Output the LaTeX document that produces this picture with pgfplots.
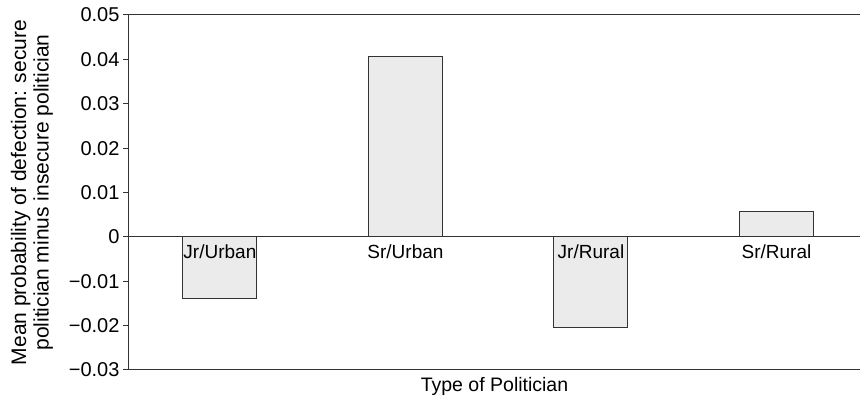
\documentclass[border=0pt]{standalone}
\usepackage{pgfplots}
\pgfplotsset{compat=1.18}
\usepackage{fontspec}
\setmainfont{Liberation Sans}

\definecolor{barfill}{HTML}{EBEBEB}
\definecolor{edge}{HTML}{333333}

\begin{document}
\begin{tikzpicture}
\begin{axis}[
  scale only axis,
  width=731pt, height=355pt,
  xmin=-0.49, xmax=3.45,
  ymin=-0.03, ymax=0.05,
  axis x line*=box, axis y line*=left,
  axis line style={line width=1pt, draw=edge},
  xtick=\empty,
  ytick={-0.03,-0.02,-0.01,0,0.01,0.02,0.03,0.04,0.05},
  yticklabels={−0.03,−0.02,−0.01,0,0.01,0.02,0.03,0.04,0.05},
  scaled y ticks=false,
  tick align=outside, major tick length=6pt,
  tick style={line width=1pt, draw=edge},
  yticklabel style={font=\fontsize{20}{24}\selectfont},
  ylabel={Mean probability of defection: secure\\politician minus insecure politician},
  ylabel style={align=center, font=\fontsize{21}{22.5}\selectfont, yshift=9pt},
  xlabel={Type of Politician},
  xlabel style={font=\fontsize{19.5}{23}\selectfont, yshift=2pt},
  clip=false,
]
% zero line
\draw[line width=1pt, edge] (axis cs:-0.49,0) -- (axis cs:3.45,0);

\addplot[ybar, bar width=74pt, fill=barfill, draw=edge, line width=1pt]
  coordinates {(0,-0.0138) (1,0.0406) (2,-0.0205) (3,0.0058)};

% category labels just under the zero line
\addplot[draw=none, mark=none,
  nodes near coords, point meta=explicit symbolic,
  every node near coord/.style={anchor=north, yshift=-4pt,
    font=\fontsize{19}{22}\selectfont, text=black}]
  coordinates {(0,0) [Jr/Urban] (1,0) [Sr/Urban] (2,0) [Jr/Rural] (3,0) [Sr/Rural]};

% fix the page to the reference's margins
\path (rel axis cs:0,1) ++(-129pt,15pt) coordinate (tl);
\path (rel axis cs:1,0) ++(1pt,-34pt) coordinate (br);
\useasboundingbox (tl) rectangle (br);
\end{axis}
\end{tikzpicture}
\end{document}
